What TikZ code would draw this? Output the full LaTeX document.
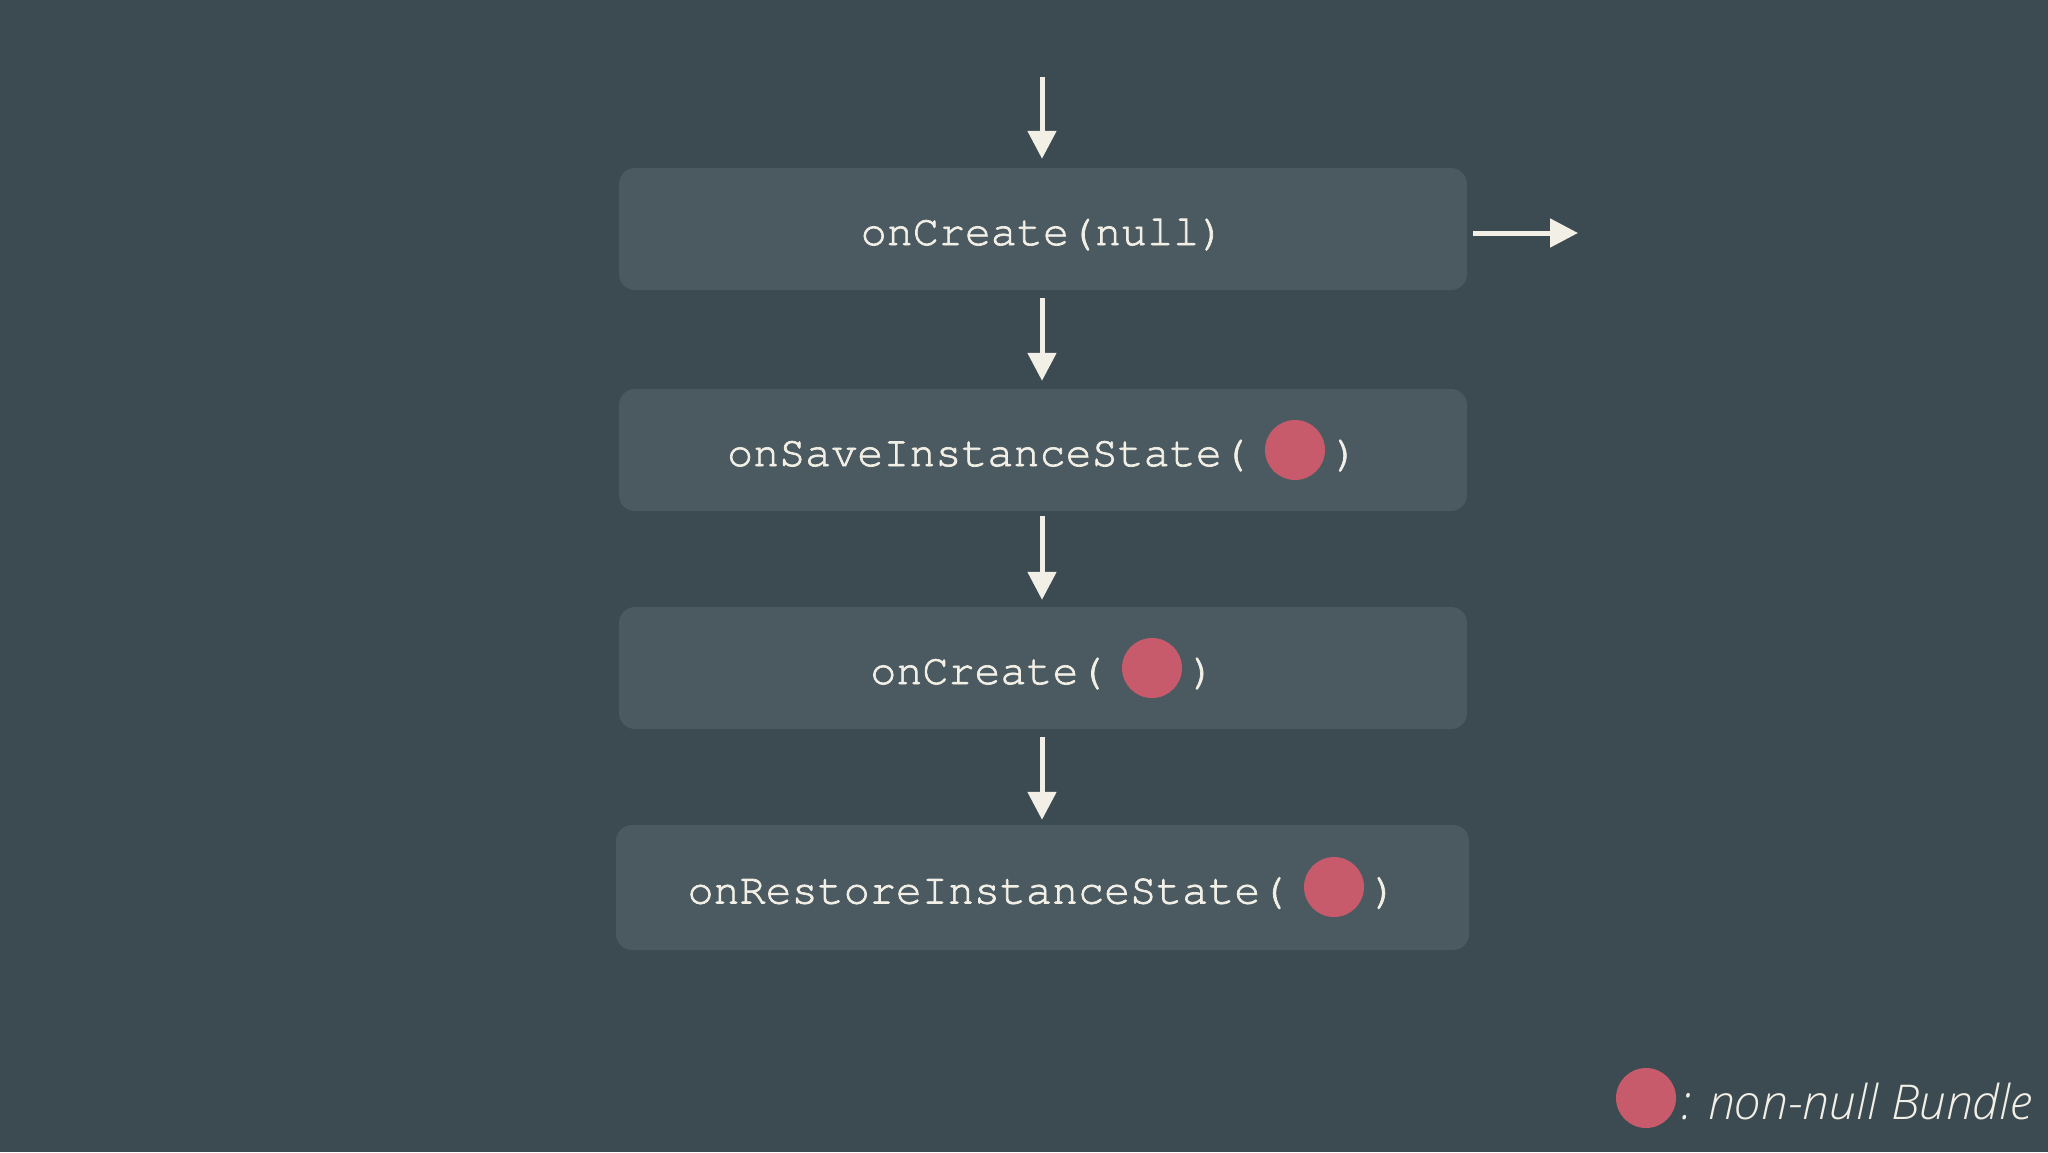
\documentclass[tikz,border=0pt]{standalone}
\usepackage{fontspec}
\setmonofont{TeX Gyre Cursor}[FakeBold=1.6]
\newfontfamily\legfont{Open Sans}[UprightFont=* Light, ItalicFont=* Light Italic]
\usetikzlibrary{arrows.meta}
\definecolor{bgc}{HTML}{3C4B52}
\definecolor{boxc}{HTML}{4B5A61}
\definecolor{cream}{HTML}{F2F0E6}
\definecolor{dotc}{HTML}{C85B6B}
\tikzset{
  stagebox/.style={fill=boxc, draw=none, rounded corners=16pt, minimum width=848pt, minimum height=122pt,
    inner sep=0pt, text=cream, font=\ttfamily\fontsize{43.4}{50}\selectfont, text height=32pt, text depth=0pt},
  bundle/.style={circle, fill=dotc, draw=none, minimum size=60pt, inner sep=0pt},
  flow/.style={draw=cream, line width=5pt, -{Triangle[length=28pt,width=28pt]}},
}
\begin{document}
\begin{tikzpicture}[x=1pt,y=-1pt]
\useasboundingbox (0,0) rectangle (2048,1152);
\fill[bgc] (0,0) rectangle (2048,1152);
\node[stagebox] (b1) at (1043,229) {onCreate(null)};
\node[stagebox] (b2) at (1043,450) {onSaveInstanceState(\hspace{85pt})};
\node[stagebox] (b3) at (1043,668) {onCreate(\hspace{85pt})};
\node[stagebox, minimum width=853pt, minimum height=125pt] (b4) at (1042.5,887.5) {onRestoreInstanceState(\hspace{85pt})};
\node[bundle] (d2) at (1295,450) {};
\node[bundle] (d3) at (1152,668) {};
\node[bundle] (d4) at (1334,887) {};
\coordinate (start) at (1042,77);
\coordinate (exit) at (1578,233);
\draw[flow, shorten >=9pt] (start) -- (start |- b1.north);
\draw[flow, shorten <=8pt, shorten >=8pt] (b1.south -| start) -- (b2.north -| start);
\draw[flow, shorten <=5pt, shorten >=7pt] (b2.south -| start) -- (b3.north -| start);
\draw[flow, shorten <=8pt, shorten >=5pt] (b3.south -| start) -- (b4.north -| start);
\draw[flow, shorten <=6pt] (b1.east |- exit) -- (exit);
\node[bundle] (ld) at (1646,1098) {};
\node[anchor=base west, inner sep=0pt, text=cream, font=\legfont\itshape\fontsize{48}{55}\selectfont] (lt) at (1680,1119) {: non-null Bundle};
\end{tikzpicture}
\end{document}
